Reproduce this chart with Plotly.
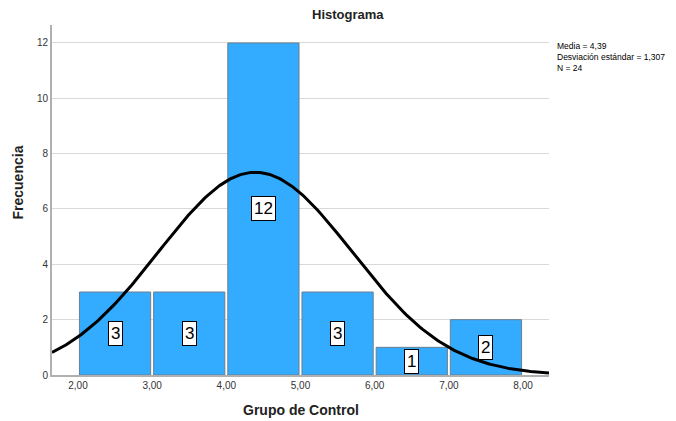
import numpy as np
import plotly.graph_objects as go

bin_left = [2, 3, 4, 5, 6, 7]
counts = [3, 3, 12, 3, 1, 2]
mean = 4.39
sd = 1.307
n = 24
bin_width = 1.0

centers = [b + bin_width / 2 for b in bin_left]

xs = np.linspace(1.65, 8.35, 300)
ys = n * bin_width / (sd * np.sqrt(2 * np.pi)) * np.exp(-0.5 * ((xs - mean) / sd) ** 2)

fig = go.Figure()
fig.add_trace(go.Bar(x=centers, y=counts, width=0.96,
                     marker=dict(color="#33ABFF", line=dict(color="#6b7f8f", width=1)),
                     hoverinfo="skip"))
fig.add_trace(go.Scatter(x=xs, y=ys, mode="lines", line=dict(color="black", width=3),
                         hoverinfo="skip"))

for c, v in zip(centers, counts):
    fig.add_annotation(x=c, y=v / 2, text=str(v), showarrow=False,
                       font=dict(family="Arial, Liberation Sans", size=17, color="black"),
                       bgcolor="white", bordercolor="black", borderwidth=1, borderpad=2)

fig.add_annotation(xref="paper", yref="paper", x=1.012, y=0.96, xanchor="left", yanchor="top",
                   align="left", showarrow=False,
                   text=f"Media = {str(mean).replace('.', ',')}<br>Desviación estándar = {str(sd).replace('.', ',')}<br>N = {n}",
                   font=dict(family="Arial, Liberation Sans", size=8.5, color="black"))

# titles as annotations (pixel-accurate placement)
fig.add_annotation(xref="paper", yref="paper", x=0.596, y=1.0, yshift=11, xanchor="center", yanchor="middle",
                   text="<b>Histograma</b>", showarrow=False,
                   font=dict(family="Arial, Liberation Sans", size=13, color="#222"))
fig.add_annotation(xref="paper", yref="paper", x=0.5, y=0, yshift=-35, xanchor="center", yanchor="middle",
                   text="<b>Grupo de Control</b>", showarrow=False,
                   font=dict(family="Arial, Liberation Sans", size=14, color="#222"))
fig.add_annotation(xref="paper", yref="paper", x=0, y=0.55, xshift=-34, xanchor="center", yanchor="middle",
                   text="<b>Frecuencia</b>", showarrow=False, textangle=-90,
                   font=dict(family="Arial, Liberation Sans", size=14, color="#222"))

fig.update_layout(
    width=676, height=421,
    margin=dict(l=52, r=127, t=25, b=46),
    plot_bgcolor="white", paper_bgcolor="white",
    showlegend=False,
    separators=",.",
    font=dict(family="Arial, Liberation Sans", color="black"),
)
fig.update_xaxes(range=[1.65, 8.35], tickvals=[2, 3, 4, 5, 6, 7, 8], tickformat=".2f",
                 showgrid=False, zeroline=False, showline=True, linecolor="#b0b0b0", linewidth=2,
                 ticks="", tickfont=dict(size=10, color="#333"), automargin=False)
fig.update_yaxes(range=[0, 12.65], tickvals=[0, 2, 4, 6, 8, 10, 12],
                 showgrid=True, gridcolor="#d9d9d9", gridwidth=1, zeroline=False,
                 showline=True, linecolor="#b0b0b0", linewidth=2, ticks="",
                 tickfont=dict(size=10, color="#333"), automargin=False)

fig.write_html("out.html", config={"displayModeBar": False},
               post_script="document.body.style.margin='0';document.body.style.overflow='hidden';")
